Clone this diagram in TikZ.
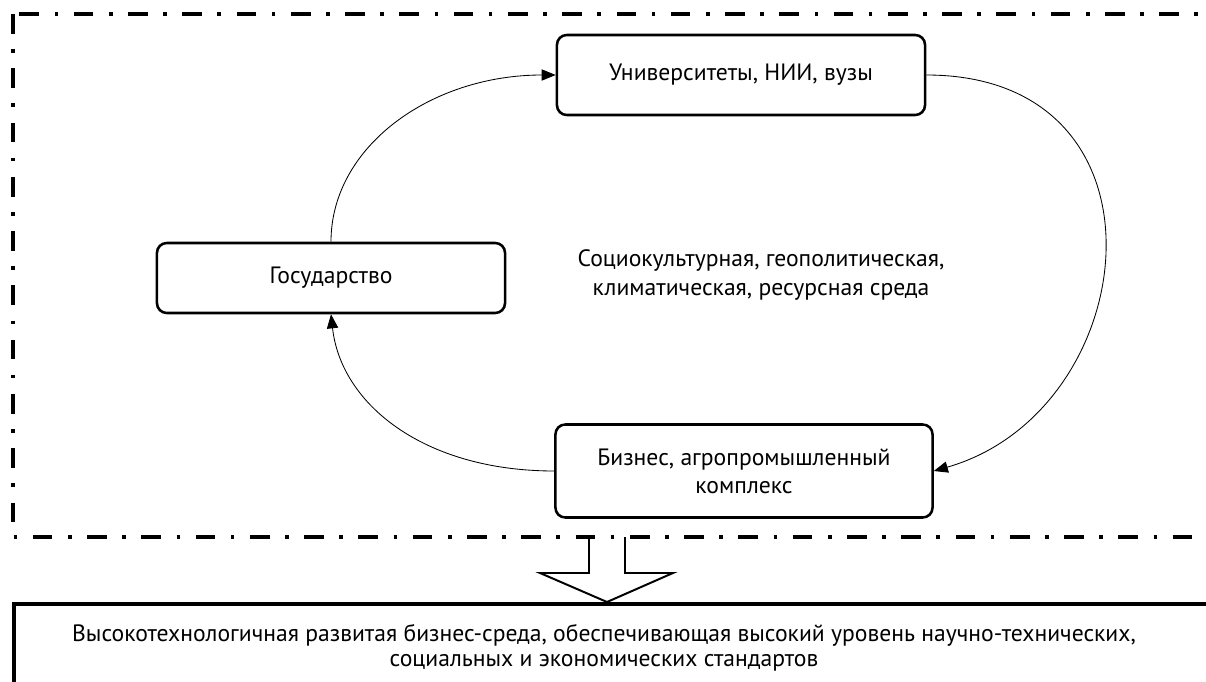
\documentclass[tikz,border=0pt]{standalone}
\usepackage{fontspec}
\setmainfont{PT Sans}
\usepackage{tikz}
\usetikzlibrary{arrows.meta}
\usetikzlibrary{positioning}
\tikzset{actor/.style={draw=black,line width=1.8pt,rounded corners=7pt,align=center,inner sep=0pt,font=\fontsize{16.8}{20}\selectfont}}
\tikzset{link/.style={line width=0.6pt,-{Triangle[length=10pt,width=8pt]}}}
\tikzset{frame/.style={line width=3pt,dash pattern=on 14pt off 11pt on 2.6pt off 11pt}}
\tikzset{goalbox/.style={draw=black,line width=3pt}}

\begin{document}
\begin{tikzpicture}[x=0.025cm,y=-0.025cm]
\useasboundingbox (0,0) rectangle (1206,682);
% outer environment frame
\draw[frame] (13,14) rectangle (1240,537);

\node (Univ) at (741,75) [actor,minimum width=9.2cm,minimum height=2cm] {Университеты, НИИ, вузы};
\node (Gov) at (331,278) [actor,minimum width=8.7cm,minimum height=1.75cm] {Государство};
\node (Biz) at (744,471) [actor,minimum width=9.425cm,minimum height=2.325cm] {Бизнес, агропромышленный\\комплекс};
\node (Env) at (761,275) [align=center,font=\fontsize{16.8}{20.5}\selectfont] {Социокультурная, геополитическая,\\климатическая, ресурсная среда};

\draw[link] (Gov.north) .. controls +(0,-95) and +(-125,0) .. (Univ.west);
\draw[link] (Univ.east) .. controls +(255,0) and +(210,-60) .. (Biz.east);
\draw[link] (Biz.west) .. controls +(-130,0) and +(10,90) .. (Gov.south);

% result
\draw[line width=1.4pt] (589,537) -- (589,573) -- (540,573) -- (607,602) -- (673,573) -- (625,573) -- (625,537);
\draw[goalbox] (14,604) rectangle (1240,720);
\node (Goal) at (604,648) [align=center,font=\fontsize{16.8}{18}\selectfont] {Высокотехнологичная развитая бизнес-среда, обеспечивающая высокий уровень научно-технических,\\социальных и экономических стандартов};
\end{tikzpicture}
\end{document}
